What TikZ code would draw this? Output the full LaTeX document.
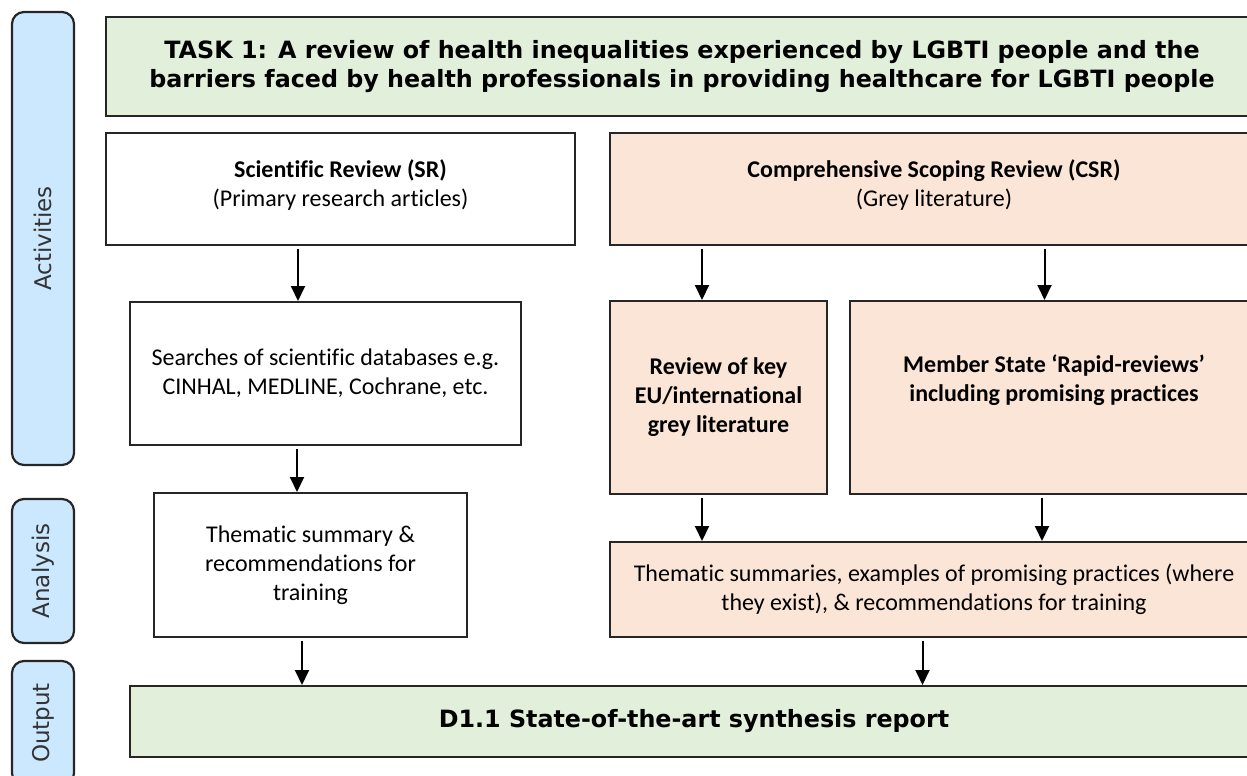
\documentclass[tikz,border=0pt]{standalone}
\usepackage{fontspec}
\setmainfont{Carlito}[Ligatures=NoCommon]
\newfontfamily\verd{DejaVu Sans}
\usetikzlibrary{arrows.meta}

\definecolor{taskgreen}{HTML}{E2EFDA}
\definecolor{csrpeach}{HTML}{FBE5D6}
\definecolor{sideblue}{HTML}{CCE8FF}

\tikzset{
    stage/.style={draw=black!85, line width=1.1pt, fill=sideblue, rounded corners=6pt,
        minimum width=31pt, inner sep=0pt, text=black!80,
        font=\verd\fontsize{11.5pt}{14pt}\selectfont},
    box/.style={draw=black!85, line width=1pt, inner sep=0pt, align=center,
        font=\fontsize{12pt}{14.5pt}\selectfont},
    wbox/.style={box, fill=white},
    pbox/.style={box, fill=csrpeach},
    gbox/.style={box, fill=taskgreen, font=\verd\bfseries\fontsize{11.9pt}{14.5pt}\selectfont},
    arr/.style={-{Triangle[length=7.5pt,width=7pt]}, line width=1pt, shorten <=1.5pt}
}

\begin{document}
\begin{tikzpicture}[x=0.5pt, y=-0.5pt]
    \useasboundingbox (0,0) rectangle (1247,776);

    % stages on the left
    \node[stage, minimum height=226.5pt] (act) at (43,238.5) {\rotatebox{90}{Activities}};
    \node[stage, minimum height=72pt] (ana) at (43,571) {\rotatebox{90}{Analysis}};
    \node[stage, minimum height=62pt] (outp) at (43,723) {\rotatebox{90}{Output}};

    % task
    \node[gbox, minimum width=576pt, minimum height=49.5pt] (task) at (682,66.5)
        {TASK 1: A review of health inequalities experienced by LGBTI people and the\\
         barriers faced by health professionals in providing healthcare for LGBTI people};

    % scientific review
    \node[wbox, minimum width=234.5pt, minimum height=56pt] (sr) at (340.5,189) {};
    \node[box, draw=none] (srtxt) at ([yshift=2pt]sr.center)
        {\textbf{Scientific Review (SR)}\\(Primary research articles)};
    \node[wbox, minimum width=195.5pt, minimum height=71.5pt] (search) at (325.5,373.5)
        {Searches of scientific databases e.g.\\CINHAL, MEDLINE, Cochrane, etc.};
    \node[wbox, minimum width=156.5pt, minimum height=72pt] (srsum) at (310.5,565)
        {Thematic summary \&\\recommendations for\\training};

    % comprehensive scoping review
    \node[pbox, minimum width=324pt, minimum height=56pt] (csr) at (934,189) {};
    \node[box, draw=none] (csrtxt) at ([yshift=2pt]csr.center)
        {\textbf{Comprehensive Scoping Review (CSR)}\\(Grey literature)};
    \node[pbox, minimum width=108.5pt, minimum height=96.5pt] (grey) at (718.5,397.5)
        {\textbf{Review of key}\\\textbf{EU/international}\\\textbf{grey literature}};
    \node[pbox, minimum width=204pt, minimum height=96.5pt] (ms) at (1054,397.5) {};
    \node[box, draw=none] (mstxt) at ([yshift=8.5pt]ms.center)
        {\textbf{Member State `Rapid-reviews'}\\\textbf{including promising practices}};
    \node[pbox, minimum width=324pt, minimum height=47.5pt] (csrsum) at (934,589.5)
        {Thematic summaries, examples of promising practices (where\\they exist), \& recommendations for training};

    % output
    \node[gbox, minimum width=564pt, minimum height=35.5pt] (d11) at (694,721.5)
        {D1.1 State-of-the-art synthesis report};

    % arrows
    \draw[arr] ([xshift=-21.25pt]sr.south) -- ([xshift=-21.25pt]sr.south |- search.north);
    \draw[arr] ([xshift=-14.25pt]search.south) -- ([xshift=-14.25pt]search.south |- srsum.north);
    \draw[arr] ([xshift=-4.25pt]srsum.south) -- ([xshift=-4.25pt]srsum.south |- d11.north);
    \draw[arr] ([xshift=-8.25pt]grey.north |- csr.south) -- ([xshift=-8.25pt]grey.north);
    \draw[arr] ([xshift=-4.75pt]ms.north |- csr.south) -- ([xshift=-4.75pt]ms.north);
    \draw[arr] ([xshift=-8.25pt]grey.south) -- ([xshift=-8.25pt]grey.south |- csrsum.north);
    \draw[arr] ([xshift=-6pt]ms.south) -- ([xshift=-6pt]ms.south |- csrsum.north);
    \draw[arr] ([xshift=-5.75pt]csrsum.south) -- ([xshift=-5.75pt]csrsum.south |- d11.north);
\end{tikzpicture}
\end{document}
